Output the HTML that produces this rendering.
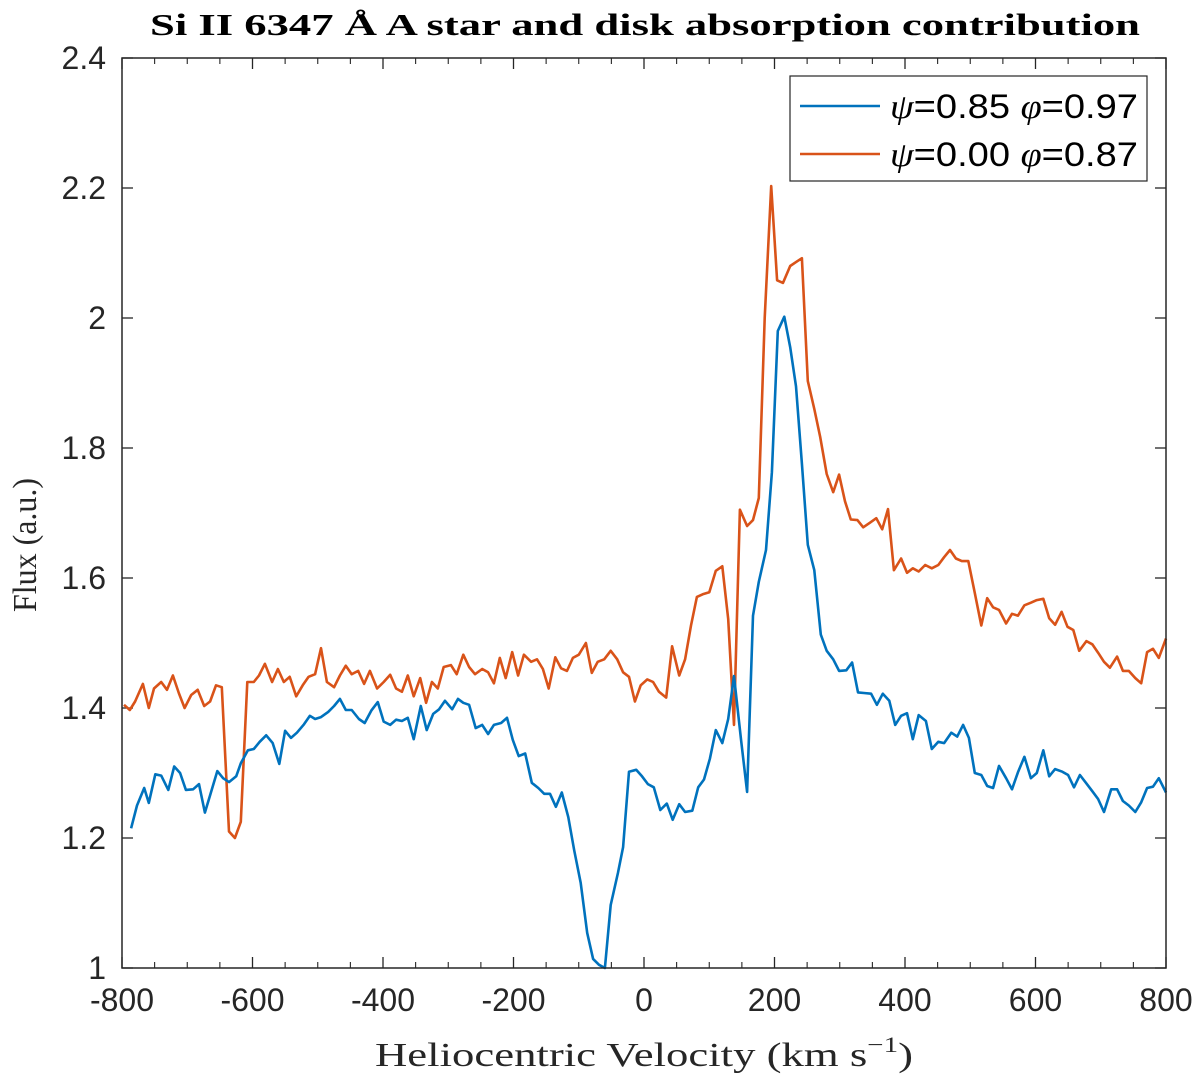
<!DOCTYPE html>
<html><head><meta charset="utf-8"><style>
html,body{margin:0;padding:0;background:#fff;}
svg{display:block;}
</style></head><body>
<svg id="chart" width="1200" height="1082" viewBox="0 0 1200 1082" xmlns="http://www.w3.org/2000/svg">
<text x="150" y="35" textLength="990" lengthAdjust="spacingAndGlyphs" font-family="Liberation Serif, serif" font-weight="bold" font-size="31" fill="#000">Si II 6347 Å A star and disk absorption contribution</text>
<rect x="122" y="58" width="1044" height="910" fill="#fff" stroke="none"/>
<g id="ticks"></g>
<g id="series"></g>
<rect x="122" y="58" width="1044" height="910" fill="none" stroke="#262626" stroke-width="1.5"/>
<text x="375" y="1066" textLength="538" lengthAdjust="spacingAndGlyphs" font-family="Liberation Serif, serif" font-size="34" fill="#262626">Heliocentric Velocity (km s<tspan dy="-14" font-size="22">−1</tspan><tspan dy="14">)</tspan></text>
<text transform="translate(36,612) rotate(-90)" textLength="134" lengthAdjust="spacingAndGlyphs" font-family="Liberation Serif, serif" font-size="34" fill="#262626">Flux (a.u.)</text>
<g>
<rect x="790" y="76" width="357" height="105" fill="#fff" stroke="#262626" stroke-width="1.2"/>
<line x1="800" y1="106" x2="880" y2="106" stroke="#0072BD" stroke-width="2.5"/>
<text x="890" y="118" textLength="248" lengthAdjust="spacingAndGlyphs" font-family="Liberation Sans, sans-serif" font-size="34" fill="#000"><tspan font-family="Liberation Serif, serif" font-style="italic">ψ</tspan>=0.85 <tspan font-family="Liberation Serif, serif" font-style="italic">φ</tspan>=0.97</text>
<line x1="800" y1="154" x2="880" y2="154" stroke="#D95319" stroke-width="2.5"/>
<text x="890" y="166" textLength="248" lengthAdjust="spacingAndGlyphs" font-family="Liberation Sans, sans-serif" font-size="34" fill="#000"><tspan font-family="Liberation Serif, serif" font-style="italic">ψ</tspan>=0.00 <tspan font-family="Liberation Serif, serif" font-style="italic">φ</tspan>=0.87</text>
</g>
</svg>
<script>
const xTicks = [-800,-600,-400,-200,0,200,400,600,800];
const xTickLabels = ['-800','-600','-400','-200','0','200','400','600','800'];
const yTicks = [1,1.2,1.4,1.6,1.8,2,2.2,2.4];
const yTickLabels = ['1','1.2','1.4','1.6','1.8','2','2.2','2.4'];
const orangeV = [-797,-788,-780,-768,-759,-751,-740,-731,-722,-713,-704,-694,-684,-674,-665,-656,-647,-636,-627,-618,-608,-598,-590,-581,-570,-561,-552,-543,-533,-523,-514,-504,-495,-486,-475,-466,-457,-448,-438,-429,-420,-409,-399,-389,-380,-371,-362,-353,-343,-334,-325,-316,-307,-296,-287,-277,-268,-259,-248,-239,-230,-221,-212,-202,-193,-184,-173,-164,-155,-146,-136,-127,-118,-109,-100,-89,-80,-71,-61,-51,-41,-32,-23,-14,-5,5,14,23,34,43,54,63,72,81,90,100,110,120,129,138,147,158,167,176,185,195,204,213,224,233,242,251,261,270,280,290,299,308,317,327,336,346,356,365,374,383,394,403,412,421,431,441,451,460,469,478,487,497,507,517,526,535,544,555,564,573,583,593,602,612,621,630,640,649,658,667,678,687,696,705,714,725,734,743,753,762,771,780,789,800];
const orangeF = [1.405,1.397,1.41,1.437,1.40,1.43,1.44,1.428,1.45,1.423,1.40,1.42,1.428,1.403,1.41,1.435,1.432,1.21,1.20,1.225,1.44,1.44,1.45,1.468,1.44,1.46,1.44,1.448,1.418,1.435,1.448,1.452,1.492,1.44,1.432,1.45,1.465,1.452,1.457,1.437,1.457,1.43,1.44,1.451,1.43,1.425,1.45,1.418,1.446,1.408,1.44,1.43,1.463,1.466,1.452,1.482,1.463,1.452,1.46,1.455,1.438,1.477,1.446,1.486,1.45,1.482,1.471,1.475,1.46,1.43,1.478,1.461,1.457,1.477,1.482,1.50,1.454,1.471,1.475,1.488,1.475,1.455,1.448,1.41,1.435,1.444,1.44,1.425,1.416,1.495,1.45,1.475,1.527,1.571,1.575,1.578,1.611,1.618,1.537,1.374,1.705,1.68,1.689,1.723,2.0,2.203,2.058,2.054,2.08,2.086,2.092,1.903,1.86,1.817,1.76,1.732,1.759,1.718,1.69,1.689,1.678,1.685,1.692,1.675,1.706,1.612,1.63,1.608,1.615,1.61,1.62,1.615,1.62,1.632,1.643,1.63,1.626,1.626,1.577,1.527,1.569,1.555,1.551,1.53,1.545,1.542,1.558,1.562,1.566,1.568,1.538,1.528,1.548,1.525,1.52,1.488,1.503,1.498,1.485,1.471,1.462,1.479,1.457,1.457,1.446,1.438,1.486,1.491,1.477,1.507];
const blueV = [-786,-777,-766,-759,-749,-740,-729,-720,-711,-702,-691,-682,-673,-664,-654,-645,-636,-625,-618,-607,-598,-589,-579,-569,-559,-550,-541,-532,-521,-512,-504,-495,-484,-475,-466,-457,-448,-437,-428,-418,-408,-399,-389,-380,-371,-362,-353,-342,-333,-323,-314,-305,-294,-285,-277,-268,-258,-248,-239,-230,-219,-210,-201,-192,-182,-172,-162,-153,-144,-135,-126,-116,-107,-97,-87,-78,-69,-60,-51,-40,-32,-23,-12,-3,6,15,25,35,44,54,63,74,83,92,101,110,120,129,138,149,158,167,176,187,196,205,215,224,233,242,251,261,271,280,290,299,310,319,328,337,348,357,366,376,385,394,403,412,421,432,441,451,460,471,480,489,498,507,517,526,535,544,555,564,573,583,593,602,612,621,630,641,650,659,668,678,687,696,705,716,725,734,743,753,762,771,780,789,800];
const blueF = [1.215,1.25,1.277,1.254,1.298,1.296,1.274,1.31,1.30,1.274,1.275,1.283,1.239,1.269,1.303,1.292,1.286,1.295,1.315,1.335,1.337,1.348,1.358,1.346,1.314,1.365,1.354,1.362,1.375,1.388,1.383,1.386,1.394,1.403,1.414,1.397,1.397,1.383,1.377,1.396,1.409,1.379,1.374,1.382,1.38,1.385,1.352,1.403,1.366,1.391,1.398,1.411,1.398,1.414,1.408,1.405,1.369,1.374,1.36,1.374,1.377,1.385,1.351,1.326,1.33,1.285,1.277,1.268,1.268,1.248,1.27,1.232,1.181,1.131,1.054,1.014,1.005,1.0,1.097,1.146,1.186,1.302,1.305,1.295,1.283,1.278,1.243,1.253,1.228,1.252,1.24,1.242,1.278,1.29,1.322,1.366,1.346,1.383,1.449,1.349,1.271,1.542,1.594,1.643,1.763,1.98,2.002,1.955,1.895,1.776,1.651,1.612,1.513,1.488,1.475,1.457,1.458,1.47,1.424,1.423,1.422,1.405,1.422,1.411,1.374,1.388,1.392,1.352,1.389,1.38,1.337,1.348,1.346,1.362,1.356,1.374,1.354,1.30,1.297,1.28,1.277,1.311,1.292,1.275,1.301,1.325,1.292,1.30,1.335,1.295,1.306,1.302,1.297,1.278,1.297,1.284,1.272,1.26,1.24,1.275,1.275,1.257,1.25,1.24,1.255,1.277,1.279,1.292,1.27];

const NS='http://www.w3.org/2000/svg';
const X0=122,X1=1166,Y0=58,Y1=968;
function xs(v){return X0+(v+800)/1600*(X1-X0);}
function ys(f){return Y1-(f-1)/1.4*(Y1-Y0);}
const tg=document.getElementById('ticks');
function mk(tag,attrs,parent){const e=document.createElementNS(NS,tag);for(const k in attrs)e.setAttribute(k,attrs[k]);parent.appendChild(e);return e;}
xTicks.forEach((v,i)=>{
  const x=xs(v);
  const t1=mk('line',{x1:x,y1:Y1,x2:x,y2:Y1-11,stroke:'#262626','stroke-width':1.3},tg);
  
  
  const t2=mk('line',{x1:x,y1:Y0,x2:x,y2:Y0+11,stroke:'#262626','stroke-width':1.3},tg);
  
  
  const lb=mk('text',{x:x,y:1011,'text-anchor':'middle','font-family':'Liberation Sans, sans-serif','font-size':32,fill:'#262626'},tg);
  lb.textContent=xTickLabels[i];
  
  
  if(i<xTicks.length-1){
    [50,100,150].forEach(d=>{
      const xm=xs(v+d);
      const m1=mk('line',{x1:xm,y1:Y1,x2:xm,y2:Y1-6,stroke:'#262626','stroke-width':1.1},tg);
      
      
      const m2=mk('line',{x1:xm,y1:Y0,x2:xm,y2:Y0+6,stroke:'#262626','stroke-width':1.1},tg);
      
      
    });
  }
});
yTicks.forEach((f,i)=>{
  const y=ys(f);
  const t1=mk('line',{x1:X0,y1:y,x2:X0+11,y2:y,stroke:'#262626','stroke-width':1.3},tg);
  
  
  const t2=mk('line',{x1:X1,y1:y,x2:X1-11,y2:y,stroke:'#262626','stroke-width':1.3},tg);
  
  
  const lb=mk('text',{x:106,y:y+11,'text-anchor':'end','font-family':'Liberation Sans, sans-serif','font-size':32,fill:'#262626'},tg);
  lb.textContent=yTickLabels[i];
  
  
});
const sg=document.getElementById('series');
function line(V,F,color,name){
  const pts=V.map((v,i)=>xs(v).toFixed(1)+','+ys(F[i]).toFixed(1)).join(' ');
  const p=mk('polyline',{points:pts,fill:'none',stroke:color,'stroke-width':2.6,'stroke-linejoin':'round'},sg);
  
  
}
line(orangeV,orangeF,'#D95319','series-psi000-phi087');
line(blueV,blueF,'#0072BD','series-psi085-phi097');
</script>
</body></html>
